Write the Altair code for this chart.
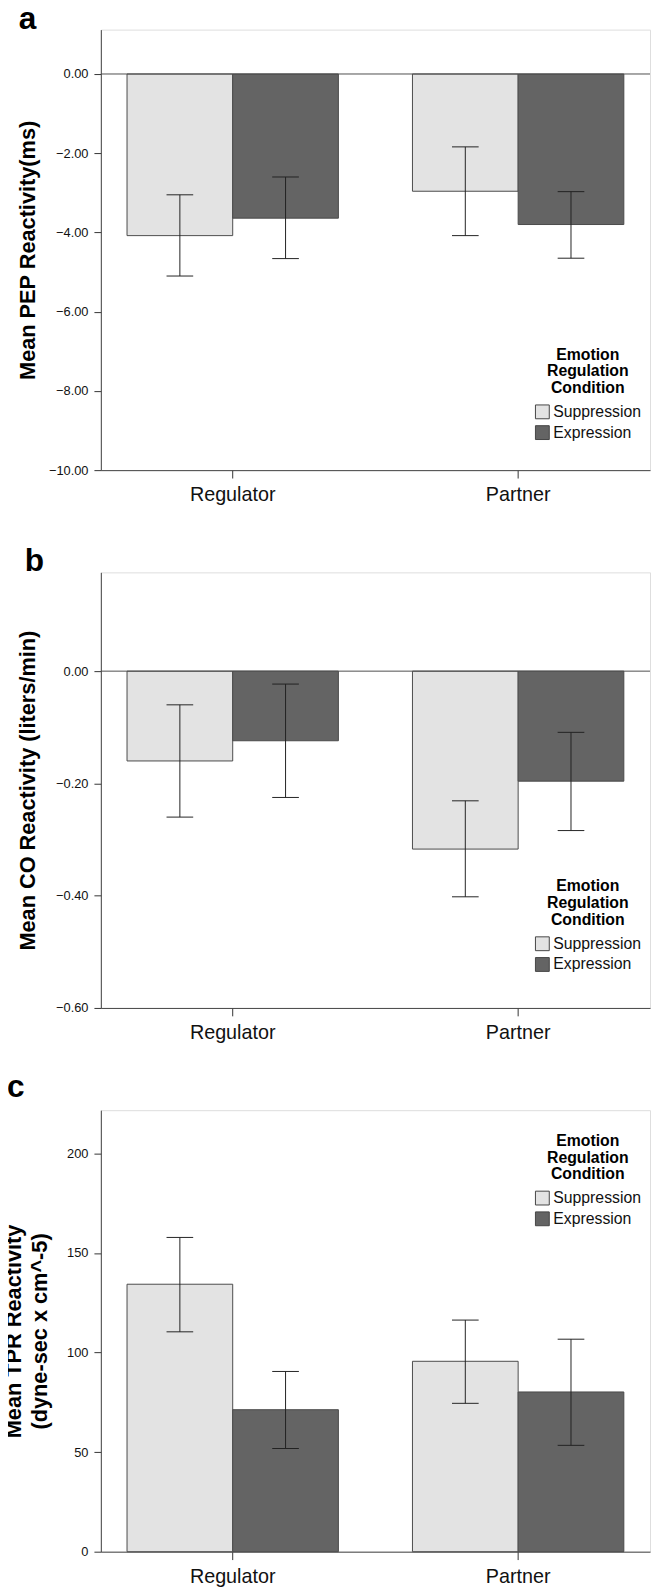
import altair as alt
import pandas as pd

roles = ["Regulator", "Partner"]
conditions = ["Suppression", "Expression"]
bar_colors = ["#e3e3e3", "#646464"]

# Panel a: PEP reactivity (ms)
pep_sup_mean = [-4.08, -2.96]
pep_sup_lo = [-5.10, -4.08]
pep_sup_hi = [-3.05, -1.84]
pep_exp_mean = [-3.64, -3.80]
pep_exp_lo = [-4.66, -4.65]
pep_exp_hi = [-2.60, -2.97]
pep_ticks = [0, -2, -4, -6, -8, -10]
pep_domain = [-10, 1.12]

# Panel b: CO reactivity (liters/min)
co_sup_mean = [-0.160, -0.317]
co_sup_lo = [-0.260, -0.402]
co_sup_hi = [-0.060, -0.231]
co_exp_mean = [-0.124, -0.196]
co_exp_lo = [-0.225, -0.284]
co_exp_hi = [-0.023, -0.109]
co_ticks = [0, -0.2, -0.4, -0.6]
co_domain = [-0.6, 0.176]

# Panel c: TPR reactivity
tpr_sup_mean = [134.3, 95.6]
tpr_sup_lo = [110.4, 74.5]
tpr_sup_hi = [157.8, 116.3]
tpr_exp_mean = [71.3, 80.2]
tpr_exp_lo = [51.8, 53.4]
tpr_exp_hi = [90.5, 106.7]
tpr_ticks = [0, 50, 100, 150, 200]
tpr_domain = [0, 221.7]

zero_value = [0]
panel_letters = ["a", "b", "c"]

FONT = "Liberation Sans"
W = 556


def make_df(sm, sl, sh, em, el, eh):
    rows = []
    for i, r in enumerate(roles):
        rows.append({"role": r, "cond": conditions[0], "mean": sm[i], "lo": sl[i], "hi": sh[i]})
        rows.append({"role": r, "cond": conditions[1], "mean": em[i], "lo": el[i], "hi": eh[i]})
    return pd.DataFrame(rows)


def panel(df, letter, letter_x, letter_y, ydomain, yticks, yfmt, ytitle,
          title_x, height, legend_y, zero_line):
    xenc = alt.X("role:N", sort=roles, title=None,
                 scale=alt.Scale(paddingInner=0.2595, paddingOuter=0.0917),
                 axis=alt.Axis(labelAngle=0, labelFontSize=20, labelFont=FONT,
                               labelColor="#111", labelPadding=7, tickSize=8,
                               tickColor="#333", domain=True, domainColor="#444"))
    xoff = alt.XOffset("cond:N", sort=conditions,
                       scale=alt.Scale(paddingInner=0, paddingOuter=0))
    yscale = alt.Scale(domain=ydomain, nice=False)
    yaxis = alt.Axis(values=yticks, format=yfmt, title=ytitle,
                     titleFontSize=22, titleFontWeight="bold", titleFont=FONT,
                     titleColor="black", titleX=title_x, titleY=height / 2,
                     titleAngle=270, titleBaseline="alphabetic", titleAlign="center",
                     titleLineHeight=25.5,
                     labelFontSize=13, labelFont=FONT, labelColor="#111",
                     tickSize=7, tickColor="#333", labelPadding=6,
                     grid=False, domain=True, domainColor="#444")
    base = alt.Chart(df)
    bars = base.mark_bar(stroke="#4a4a4a", strokeWidth=1).encode(
        x=xenc, xOffset=xoff,
        y=alt.Y("mean:Q", scale=yscale, axis=yaxis),
        color=alt.Color("cond:N", sort=conditions,
                        scale=alt.Scale(domain=conditions, range=bar_colors),
                        legend=alt.Legend(
                            title=["Emotion", "Regulation", "Condition"],
                            orient="none", legendX=439, legendY=legend_y,
                            titleFontSize=16, titleFont=FONT, titleFontWeight="bold",
                            titleColor="black", titleAnchor="middle", titleAlign="center",
                            titleLineHeight=17, titlePadding=8,
                            labelFontSize=16, labelFont=FONT, labelColor="#111",
                            labelOffset=3, symbolType="square", symbolSize=196,
                            symbolStrokeColor="#444", symbolStrokeWidth=1,
                            symbolOpacity=1, rowPadding=3, padding=0)),
    )
    err = base.mark_rule(color="#222", strokeWidth=1).encode(
        x=xenc, xOffset=xoff,
        y=alt.Y("lo:Q", scale=yscale, axis=yaxis), y2="hi:Q")
    cap_lo = base.mark_tick(color="#222", thickness=1, size=27, opacity=1).encode(
        x=xenc, xOffset=xoff, y=alt.Y("lo:Q", scale=yscale, axis=yaxis))
    cap_hi = base.mark_tick(color="#222", thickness=1, size=27, opacity=1).encode(
        x=xenc, xOffset=xoff, y=alt.Y("hi:Q", scale=yscale, axis=yaxis))
    label = alt.Chart(pd.DataFrame({"t": [letter]})).mark_text(
        font=FONT, fontSize=32, fontWeight="bold", color="black",
        align="left", baseline="alphabetic").encode(
        text="t:N", x=alt.value(letter_x), y=alt.value(letter_y))
    layers = [bars, err, cap_lo, cap_hi]
    if zero_line:
        zero = alt.Chart(pd.DataFrame({"v": zero_value})).mark_rule(
            color="#4d4d4d", strokeWidth=1).encode(
            y=alt.Y("v:Q", scale=yscale, axis=yaxis))
        layers.append(zero)
    layers.append(label)
    return alt.layer(*layers).properties(width=W, height=height)


pa = panel(make_df(pep_sup_mean, pep_sup_lo, pep_sup_hi, pep_exp_mean, pep_exp_lo, pep_exp_hi),
           panel_letters[0], -83, -1, pep_domain, pep_ticks, ".2f", "Mean PEP Reactivity(ms)",
           -67, 446, 321, True)
pb = panel(make_df(co_sup_mean, co_sup_lo, co_sup_hi, co_exp_mean, co_exp_lo, co_exp_hi),
           panel_letters[1], -77, -1, co_domain, co_ticks, ".2f", "Mean CO Reactivity (liters/min)",
           -67, 441, 310, True)
pc = panel(make_df(tpr_sup_mean, tpr_sup_lo, tpr_sup_hi, tpr_exp_mean, tpr_exp_lo, tpr_exp_hi),
           panel_letters[2], -95, -13, tpr_domain, tpr_ticks, "d",
           ["Mean TPR Reactivity", "(dyne-sec x cm^-5)"],
           -81, 447, 23, False)

chart = alt.vconcat(pa, pb, pc, spacing=103.5, bounds="flush").resolve_scale(
    x="independent", y="independent", color="independent"
).properties(
    padding={"top": -16, "left": -6, "right": 0, "bottom": 0}
).configure_view(stroke="#555555", strokeWidth=1).configure(background="white")

chart.save("out.html", embed_options={"renderer": "svg", "actions": False})
